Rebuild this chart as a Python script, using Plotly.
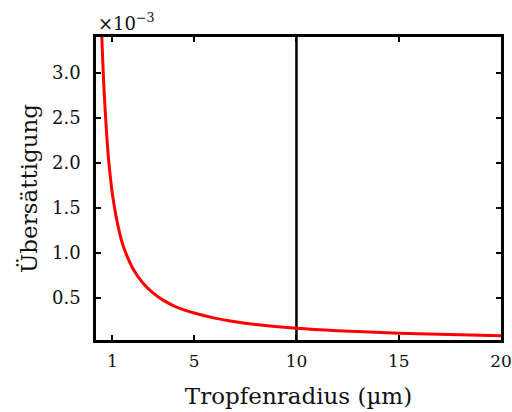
import plotly.graph_objects as go

# Tropfenradius in µm, Übersättigung in 1e-3
radius = [0.45, 0.5, 0.6, 0.7, 0.8, 0.9, 1.0, 1.25, 1.5, 1.75, 2.0, 2.5, 3.0, 3.5, 4.0, 4.5, 5.0,
          6.0, 7.0, 8.0, 10.0, 12.0, 15.0, 18.0, 20.0]
saturation = [3.65, 3.3, 2.78, 2.4, 2.08, 1.85, 1.66, 1.33, 1.1, 0.95, 0.83, 0.665, 0.555,
              0.475, 0.415, 0.37, 0.335, 0.278, 0.238, 0.208, 0.166, 0.139, 0.111, 0.092, 0.083]
vline_x = [10, 10]
vline_y = [0.035, 3.4]
xticks = [1, 5, 10, 15, 20]
yticks = [0.5, 1.0, 1.5, 2.0, 2.5, 3.0]

FONT = "DejaVu Serif"
TXT = "#111"

fig = go.Figure()
fig.add_trace(go.Scatter(x=vline_x, y=vline_y, mode="lines",
                         line=dict(color="black", width=2.5), showlegend=False,
                         hoverinfo="skip"))
fig.add_trace(go.Scatter(x=radius, y=saturation, mode="lines",
                         line=dict(color="#ff0000", width=3, shape="spline", smoothing=0.8),
                         showlegend=False))

axis_common = dict(showline=True, linecolor="black", linewidth=2.5, mirror="ticks",
                   ticks="inside", ticklen=5, tickwidth=2, tickcolor="black",
                   showgrid=False, zeroline=False, automargin=False)

fig.update_xaxes(range=[0.2, 20], tickvals=xticks, ticktext=[str(t) for t in xticks],
                 tickfont=dict(family=FONT, size=17, color=TXT),
                 title=dict(text="Tropfenradius (µm)", font=dict(family=FONT, size=23, color=TXT),
                            standoff=18),
                 ticklabelstandoff=4, **axis_common)
fig.update_yaxes(range=[0.035, 3.4], tickvals=yticks, ticktext=[f"{t:.1f}" for t in yticks],
                 tickfont=dict(family=FONT, size=18, color=TXT),
                 title=dict(text="Übersättigung", font=dict(family=FONT, size=23, color=TXT),
                            standoff=8),
                 ticklabelstandoff=9, **axis_common)

fig.add_annotation(text="×10<sup>−3</sup>", xref="paper", yref="paper", x=0, y=1.0,
                   xanchor="left", yanchor="bottom", showarrow=False, yshift=1,
                   font=dict(family=FONT, size=18, color=TXT))

fig.update_layout(width=512, height=412, margin=dict(l=96, r=11, t=37, b=72),
                  plot_bgcolor="white", paper_bgcolor="white")

fig.write_html("out.html")
